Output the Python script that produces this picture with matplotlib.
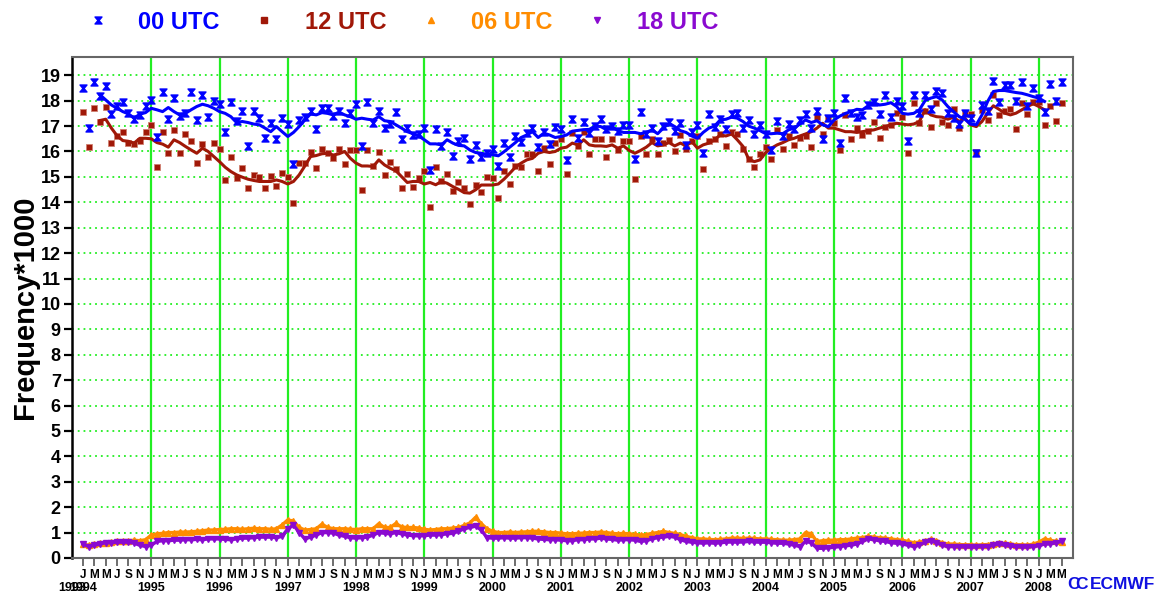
import numpy as np
import matplotlib
matplotlib.use("Agg")
import matplotlib.pyplot as plt
from matplotlib.path import Path
from matplotlib.lines import Line2D

plt.rcParams['font.family'] = ['Liberation Sans', 'DejaVu Sans']
plt.rcParams['font.weight'] = 'bold'

# monthly values, Jan 1994 .. May 2008
start_year = 1994
utc00 = [18.49, 16.92, 18.75, 18.19, 18.58, 17.47, 17.8, 17.94, 17.5, 17.27, 17.44, 17.81,
         18.03, 16.56, 18.33, 17.27, 18.12, 17.4, 17.5, 18.33, 17.23, 18.23, 17.35, 18.0,
         17.87, 16.76, 17.93, 17.2, 17.6, 16.2, 17.61, 17.31, 16.55, 17.11, 16.48, 17.31,
         17.07, 15.51, 17.24, 17.35, 17.61, 16.88, 17.7, 17.7, 17.4, 17.6, 17.11, 17.53,
         17.86, 16.23, 17.94, 17.11, 17.61, 16.92, 17.1, 17.57, 16.48, 16.92, 16.65, 16.7,
         16.92, 15.28, 16.88, 16.22, 16.78, 15.83, 16.4, 16.52, 15.7, 16.26, 15.8, 15.93,
         16.09, 15.41, 16.33, 15.78, 16.61, 16.39, 16.74, 16.94, 16.17, 16.78, 16.3, 16.98,
         16.88, 15.67, 17.28, 16.55, 17.18, 16.74, 17.02, 17.27, 16.88, 17.0, 16.8, 17.06,
         17.06, 15.7, 17.55, 16.7, 16.92, 16.42, 17.0, 17.18, 16.8, 17.11, 16.26, 16.78,
         17.06, 15.93, 17.47, 16.98, 17.27, 16.88, 17.47, 17.51, 16.92, 17.24, 16.7, 17.06,
         16.7, 16.04, 17.2, 16.61, 17.07, 16.88, 17.24, 17.47, 16.92, 17.61, 16.48, 17.31,
         17.53, 16.35, 18.1, 17.53, 17.37, 17.44, 17.83, 17.94, 17.48, 18.24, 17.37, 18.0,
         17.81, 16.41, 18.24, 17.51, 18.24, 17.66, 18.37, 18.32, 17.51, 17.3, 17.07, 17.5,
         17.3, 15.93, 17.83, 17.6, 18.76, 17.94, 18.62, 18.6, 18.0, 18.72, 17.81, 18.49,
         18.1, 17.55, 18.65, 18.0, 18.73]
utc12 = [17.55, 16.19, 17.7, 17.18, 17.74, 16.35, 16.6, 16.75, 16.35, 16.3, 16.4, 16.75,
         17.05, 15.37, 16.77, 15.93, 16.85, 15.93, 16.7, 16.43, 15.54, 16.3, 15.8, 16.33,
         16.1, 14.88, 15.8, 14.95, 15.34, 14.58, 15.08, 14.98, 14.58, 15.05, 14.64, 15.14,
         15.0, 13.96, 15.56, 15.56, 15.99, 15.34, 16.08, 15.93, 15.73, 16.08, 15.49, 16.04,
         16.04, 14.49, 16.04, 15.41, 15.97, 15.08, 15.6, 15.3, 14.55, 15.12, 14.62, 14.95,
         15.24, 13.83, 15.37, 14.82, 15.1, 14.46, 14.78, 14.58, 13.94, 14.68, 14.42, 15.01,
         14.97, 14.16, 15.24, 14.72, 15.43, 15.37, 15.91, 15.89, 15.24, 16.13, 15.49, 16.33,
         16.48, 15.1, 16.72, 16.22, 16.78, 15.91, 16.48, 16.5, 15.8, 16.48, 16.06, 16.4,
         16.43, 14.92, 16.61, 15.91, 16.5, 15.89, 16.33, 16.46, 16.0, 16.65, 16.08, 16.4,
         16.59, 15.33, 16.4, 16.5, 16.69, 16.2, 16.75, 16.69, 16.08, 15.7, 15.38, 15.91,
         16.17, 15.7, 16.85, 16.08, 16.61, 16.26, 16.54, 16.59, 16.17, 17.35, 16.69, 17.31,
         17.14, 16.04, 17.43, 16.48, 16.92, 16.65, 16.8, 17.15, 16.55, 16.95, 17.06, 17.51,
         17.37, 15.93, 17.92, 17.14, 17.61, 16.95, 17.92, 17.15, 17.05, 17.67, 16.94, 17.53,
         17.48, 15.99, 17.64, 17.22, 18.23, 17.44, 17.61, 17.68, 16.88, 17.92, 17.48, 17.94,
         17.94, 17.05, 17.81, 17.2, 17.9]
utc06 = [0.55, 0.5, 0.55, 0.58, 0.6, 0.62, 0.65, 0.67, 0.68, 0.7, 0.68, 0.72,
         0.9, 0.95, 0.97, 1.0, 1.0, 1.02, 1.02, 1.03, 1.05, 1.07, 1.1, 1.1,
         1.12, 1.13, 1.15, 1.15, 1.13, 1.15, 1.17, 1.15, 1.15, 1.13, 1.15, 1.3,
         1.5, 1.45, 1.2, 1.1, 1.12, 1.15, 1.33, 1.2, 1.15, 1.15, 1.15, 1.13,
         1.12, 1.15, 1.15, 1.15, 1.35, 1.2, 1.2, 1.36, 1.22, 1.2, 1.2, 1.18,
         1.13, 1.1, 1.12, 1.15, 1.15, 1.18, 1.2, 1.28, 1.38, 1.6, 1.35, 1.15,
         1.05, 1.0, 1.0, 1.02, 1.0, 1.02, 1.03, 1.05, 1.05, 1.03, 1.0, 1.0,
         0.98, 0.95, 0.95, 0.97, 0.98, 1.0, 1.0, 1.02, 1.0, 0.97, 0.95, 0.97,
         0.95, 0.93, 0.9, 0.92, 0.97, 1.0, 1.05, 1.0, 0.97, 0.92, 0.85, 0.8,
         0.75, 0.75, 0.73, 0.72, 0.73, 0.75, 0.78, 0.78, 0.77, 0.78, 0.77, 0.75,
         0.75, 0.73, 0.72, 0.7, 0.7, 0.72, 0.75, 1.0, 0.95, 0.65, 0.68, 0.7,
         0.7, 0.72, 0.72, 0.75, 0.78, 0.8, 0.85, 0.82, 0.8, 0.78, 0.75, 0.72,
         0.7, 0.65, 0.6, 0.62, 0.68, 0.73, 0.68, 0.6, 0.55, 0.55, 0.53, 0.52,
         0.52, 0.5, 0.52, 0.53, 0.55, 0.6, 0.57, 0.55, 0.52, 0.52, 0.5, 0.55,
         0.62, 0.75, 0.7, 0.65, 0.62]
utc18 = [0.55, 0.45, 0.5, 0.55, 0.6, 0.6, 0.62, 0.62, 0.62, 0.58, 0.5, 0.45,
         0.5, 0.65, 0.68, 0.68, 0.7, 0.7, 0.72, 0.72, 0.73, 0.72, 0.75, 0.75,
         0.75, 0.73, 0.72, 0.75, 0.78, 0.78, 0.8, 0.82, 0.82, 0.82, 0.8, 0.85,
         1.15, 1.3, 1.0, 0.75, 0.82, 0.9, 1.0, 1.0, 0.98, 0.9, 0.85, 0.8,
         0.78, 0.8, 0.82, 0.9, 1.0, 0.97, 0.95, 1.0, 0.95, 0.9, 0.88, 0.87,
         0.88, 0.9, 0.9, 0.92, 0.95, 0.97, 1.05, 1.15, 1.2, 1.25, 1.1, 0.8,
         0.78, 0.78, 0.8, 0.78, 0.78, 0.8, 0.8, 0.78, 0.75, 0.73, 0.72, 0.72,
         0.7, 0.68, 0.68, 0.72, 0.72, 0.75, 0.75, 0.78, 0.75, 0.73, 0.7, 0.72,
         0.72, 0.7, 0.65, 0.68, 0.75, 0.8, 0.82, 0.85, 0.82, 0.72, 0.65, 0.62,
         0.6, 0.58, 0.6, 0.58, 0.6, 0.62, 0.63, 0.62, 0.63, 0.65, 0.63, 0.62,
         0.62, 0.6, 0.58, 0.58, 0.55, 0.5, 0.45, 0.65, 0.6, 0.38, 0.38, 0.4,
         0.42, 0.45, 0.48, 0.5, 0.55, 0.65, 0.75, 0.72, 0.68, 0.65, 0.6, 0.58,
         0.55, 0.5, 0.45, 0.5, 0.62, 0.68, 0.6, 0.5, 0.45, 0.45, 0.45, 0.43,
         0.43, 0.43, 0.45, 0.45, 0.5, 0.55, 0.5, 0.47, 0.45, 0.43, 0.43, 0.45,
         0.48, 0.55, 0.55, 0.6, 0.65]

# smoothed curves, Apr 1994 .. Oct 2008
smooth_start = 3
smooth00 = [18.23, 18.03, 17.83, 17.7, 17.57, 17.48, 17.31, 17.47, 17.53, 17.7,
            17.64, 17.57, 17.73, 17.57, 17.44, 17.5, 17.64, 17.77, 17.86, 17.8,
            17.7, 17.57, 17.5, 17.37, 17.14, 17.18, 17.14, 17.08, 17.05, 16.92,
            16.78, 16.98, 16.78, 16.59, 16.75, 16.98, 17.24, 17.48, 17.44, 17.53,
            17.5, 17.44, 17.55, 17.44, 17.37, 17.27, 17.31, 17.27, 17.24, 17.37,
            17.21, 17.18, 17.05, 16.92, 16.78, 16.7, 16.61, 16.46, 16.3, 16.3,
            16.26, 16.46, 16.33, 16.24, 16.22, 16.06, 15.96, 15.93, 15.89, 15.87,
            15.83, 15.99, 16.17, 16.35, 16.55, 16.65, 16.78, 16.55, 16.72, 16.65,
            16.55, 16.59, 16.65, 16.8, 16.83, 16.86, 16.87, 17.0, 16.98, 16.86,
            16.98, 16.82, 16.75, 16.75, 16.75, 16.7, 16.75, 16.85, 16.7, 16.92,
            17.11, 16.98, 16.82, 16.75, 16.61, 16.52, 16.75, 16.92, 17.0, 17.24,
            17.27, 17.35, 17.31, 17.18, 17.0, 16.92, 16.82, 16.7, 16.7, 16.72,
            16.7, 16.85, 16.92, 17.08, 17.24, 17.14, 17.21, 17.05, 16.98, 17.24,
            17.39, 17.5, 17.57, 17.66, 17.64, 17.8, 17.92, 17.83, 17.86, 17.92,
            17.77, 17.5, 17.47, 17.5, 17.64, 18.0, 18.1, 18.16, 18.03, 17.77,
            17.57, 17.37, 17.27, 17.08, 17.05, 17.44, 17.97, 18.36, 18.4, 18.4,
            18.36, 18.32, 18.29, 18.23, 18.16, 18.1, 17.97]
smooth12 = [17.22, 17.27, 16.92, 16.62, 16.43, 16.4, 16.33, 16.52, 16.52, 16.5,
            16.35, 16.29, 16.17, 16.46, 16.35, 16.2, 16.06, 15.93, 16.13, 16.0,
            15.8, 15.6, 15.38, 15.21, 15.08, 14.99, 14.91, 14.86, 14.82, 14.82,
            14.82, 14.88, 14.82, 14.72, 14.82, 15.08, 15.43, 15.8, 15.84, 15.91,
            15.93, 15.86, 15.91, 16.0, 15.73, 15.54, 15.43, 15.43, 15.41, 15.67,
            15.47, 15.34, 15.24, 15.01, 14.78, 14.82, 14.82, 14.72, 14.78, 14.69,
            14.82, 14.75, 14.62, 14.51, 14.38, 14.36, 14.49, 14.68, 14.68, 14.68,
            14.72, 14.91, 15.14, 15.38, 15.54, 15.67, 15.73, 15.93, 16.0, 15.96,
            16.0, 16.13, 16.17, 16.33, 16.26, 16.46, 16.26, 16.22, 16.22, 16.2,
            16.26, 16.13, 16.22, 16.04, 15.93, 16.04, 16.17, 16.35, 16.22, 16.26,
            16.35, 16.22, 16.33, 16.22, 16.39, 16.13, 16.26, 16.33, 16.46, 16.65,
            16.61, 16.69, 16.46, 16.2, 15.7, 15.6, 15.67, 15.96, 16.13, 16.26,
            16.35, 16.46, 16.52, 16.61, 16.69, 16.78, 16.92, 17.11, 16.92, 16.92,
            16.85, 16.78, 16.78, 16.75, 16.78, 16.82, 16.85, 16.92, 16.98, 17.05,
            17.11, 17.08, 17.05, 17.08, 17.18, 17.64, 17.44, 17.37, 17.35, 17.27,
            17.35, 17.18, 17.31, 17.05, 16.98, 17.18, 17.51, 17.8, 17.66, 17.51,
            17.44, 17.51, 17.64, 17.77, 17.88, 17.77, 17.64]

month_letters = ['J', 'M', 'M', 'J', 'S', 'N']
years = list(range(1994, 2009))
labels = ['00 UTC', '12 UTC', '06 UTC', '18 UTC']

t = start_year + np.arange(len(utc00)) / 12.0
ts = start_year + (smooth_start + np.arange(len(smooth00))) / 12.0

c00, c12, c06, c18 = '#0000FF', '#A01808', '#FF8C00', '#8A0AD0'
hourglass = Path([(-1, 1), (1, 1), (0.15, 0), (1, -1), (-1, -1), (-0.15, 0), (-1, 1)],
                 [1, 2, 2, 2, 2, 2, 79])

fig = plt.figure(figsize=(11.59, 5.96), dpi=100)
ax = fig.add_axes([0.0621, 0.0638, 0.8637, 0.8406])

# grid
for y in range(1, 20):
    ax.axhline(y, color='#22ee22', lw=1.3, ls=(0, (1, 2.2)), zorder=1)
for yr in years[1:]:
    ax.axvline(yr, color='#22ee22', lw=1.6, zorder=1)

ax.plot(t, utc06, color=c06, lw=2.4, marker='^', ms=4, zorder=3)
ax.plot(t, utc18, color=c18, lw=2.4, marker='v', ms=4, zorder=4)
ax.plot(t, utc12, ls='none', marker='s', ms=4.8, color=c12, mec='#d08070', mew=0.6, zorder=5)
ax.plot(t, utc00, ls='none', marker=hourglass, ms=5, color=c00, mec=c00, zorder=6)
ax.plot(ts, smooth12, color=c12, lw=2.2, zorder=5)
ax.plot(ts, smooth00, color=c00, lw=2.2, zorder=6)

x_left = start_year - 1.93 / 12
ax.set_ylim(0, 19.72)
ax.set_xlim(x_left, start_year + 174 / 12)
ax.set_yticks(range(0, 20))
ax.set_yticklabels([str(v) for v in range(0, 20)], fontsize=13, fontweight='bold')
xt = start_year + np.arange(0, 174, 2) / 12.0
ax.set_xticks(xt)
ax.set_xticklabels([month_letters[i % 6] for i in range(len(xt))], fontsize=8.5, fontweight='bold')
ax.tick_params(axis='y', direction='out', length=6, width=1.6, pad=2, colors='black')
ax.tick_params(axis='x', direction='out', length=6, width=1.2, pad=2, color='#555555')

xtrans = ax.get_xaxis_transform()
for yr in years:
    ax.text(yr, -0.06, str(yr), transform=xtrans, ha='center', va='center',
            fontsize=9, fontweight='bold')
ax.text(x_left, -0.06, '1993', transform=xtrans, ha='center', va='center',
        fontsize=9, fontweight='bold')

ax.spines['left'].set_linewidth(1.8)
ax.spines['left'].set_color('black')
for side in ['top', 'right', 'bottom']:
    ax.spines[side].set_linewidth(1.5)
    ax.spines[side].set_color('#666666')

ax.set_ylabel('Frequency*1000', fontsize=21, fontweight='bold', labelpad=1)

handles = [Line2D([], [], ls='none', marker=hourglass, ms=5, color=c00),
           Line2D([], [], ls='none', marker='s', ms=4, color=c12),
           Line2D([], [], ls='none', marker='^', ms=4, color=c06),
           Line2D([], [], ls='none', marker='v', ms=4, color=c18)]
fig.legend(handles, labels, loc='center left', bbox_to_anchor=(0.0744, 0.963), ncol=4,
           frameon=False, handlelength=1.0, handletextpad=1.2, columnspacing=1.4,
           borderpad=0, borderaxespad=0, labelcolor=[c00, c12, c06, c18],
           prop={'weight': 'bold', 'size': 17})

# ECMWF logo as text
fig.text(0.9205, 0.0185, 'C', color='#1010e0', fontsize=12.5, fontweight='bold', ha='left', va='center')
fig.text(0.9275, 0.0185, 'C', color='#1010e0', fontsize=12.5, fontweight='bold', ha='left', va='center')
fig.text(0.9405, 0.0185, 'ECMWF', color='#1010e0', fontsize=12.5, fontweight='bold', ha='left', va='center')

fig.savefig('out.png', dpi=100)
